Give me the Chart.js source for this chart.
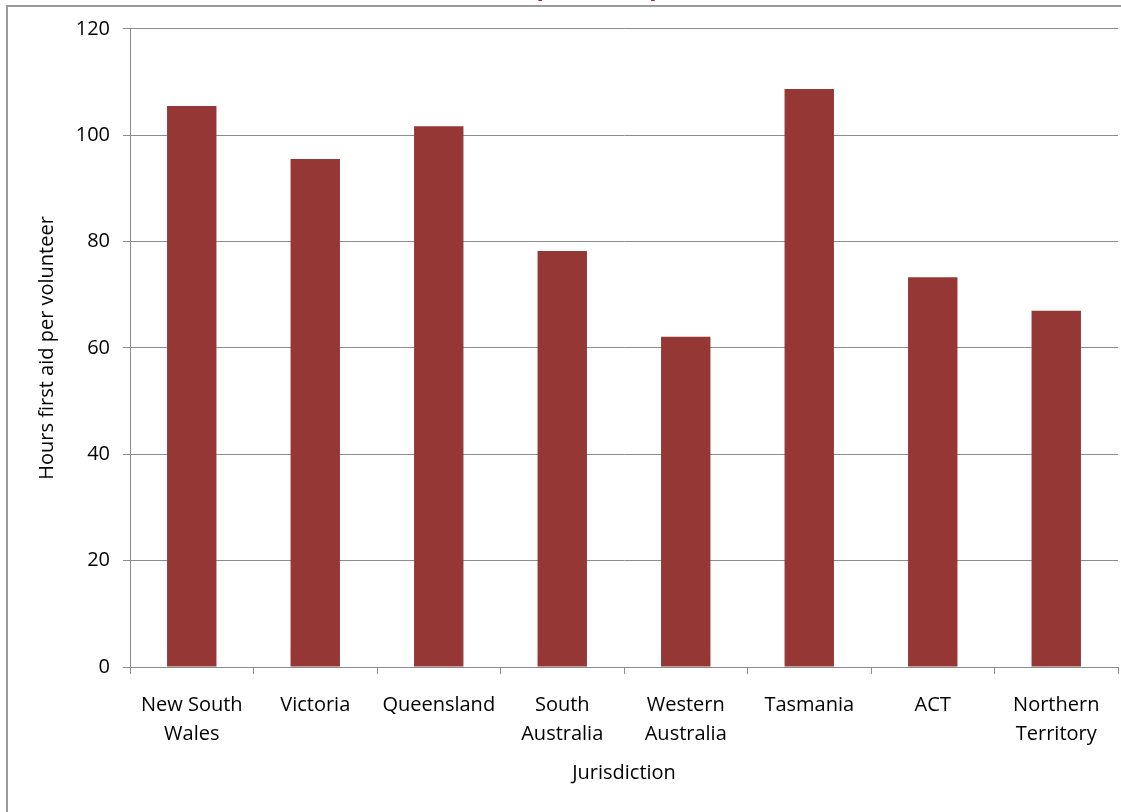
<!DOCTYPE html>
<html>
<head>
<meta charset="utf-8">
<script src="https://cdn.jsdelivr.net/npm/chart.js@4.4.1/dist/chart.umd.min.js"></script>
<style>
  html, body { margin: 0; padding: 0; background: #fff; overflow: hidden; width: 1121px; height: 812px; }
  #wrap { position: absolute; left: 0; top: -30px; width: 1121px; height: 842px; }
</style>
</head>
<body>
<div id="wrap"><canvas id="c" width="1121" height="842"></canvas></div>
<script>
const titleText = 'First aid hours provided per volunteer (2011)';
const categories = [['New South', 'Wales'], 'Victoria', 'Queensland', ['South', 'Australia'], ['Western', 'Australia'], 'Tasmania', 'ACT', ['Northern', 'Territory']];
const hoursPerVolunteer = [105.5, 95.5, 101.7, 78.2, 62.1, 108.7, 73.3, 67.0];
const yTicks = [0, 20, 40, 60, 80, 100, 120];
const xTitle = 'Jurisdiction';
const yTitle = 'Hours first aid per volunteer';

const FONT = "'Open Sans', 'Liberation Sans', sans-serif";

const framePlugin = {
  id: 'frame',
  beforeDraw(chart) {
    const ctx = chart.ctx;
    ctx.save();
    ctx.strokeStyle = '#9a9a9a';
    ctx.lineWidth = 2;
    ctx.strokeRect(7, 36, 1200, 1000);
    ctx.restore();
  }
};

new Chart(document.getElementById('c'), {
  type: 'bar',
  data: {
    labels: categories,
    datasets: [{
      data: hoursPerVolunteer,
      backgroundColor: '#953735',
      borderWidth: 0,
      barPercentage: 0.4,
      categoryPercentage: 1.0
    }]
  },
  options: {
    responsive: false,
    animation: false,
    layout: { padding: { left: 0, right: 3, top: 0, bottom: 15 } },
    plugins: {
      legend: { display: false },
      tooltip: { enabled: false },
      title: {
        display: true,
        text: titleText,
        fullSize: false,
        color: '#9b2050',
        font: { family: FONT, size: 24, weight: 'bold' },
        padding: { top: 4, bottom: 26 }
      }
    },
    scales: {
      x: {
        grid: { display: true, offset: true, drawOnChartArea: false, drawTicks: true, tickLength: 7, color: '#8c8c8c' },
        border: { display: true, color: '#8c8c8c', width: 1 },
        ticks: { color: '#000', font: { family: FONT, size: 20, lineHeight: 1.45 }, padding: 17, maxRotation: 0, autoSkip: false },
        title: { display: true, text: xTitle, color: '#000', font: { family: FONT, size: 20 }, padding: { top: 0, bottom: 12 } },
        afterFit(scale) { scale.height = 130; }
      },
      y: {
        min: 0, max: 120,
        afterBuildTicks(scale) { scale.ticks = yTicks.map(v => ({ value: v })); },
        grid: { color: '#8c8c8c', drawTicks: true, tickLength: 7 },
        border: { display: true, color: '#8c8c8c', width: 1 },
        ticks: { color: '#000', font: { family: FONT, size: 20 }, padding: 13 },
        title: { display: true, text: yTitle, color: '#000', font: { family: FONT, size: 20 }, padding: { top: 35, bottom: 0 } },
        afterFit(scale) { scale.width = 130; }
      }
    }
  },
  plugins: [framePlugin]
});
</script>
</body>
</html>
